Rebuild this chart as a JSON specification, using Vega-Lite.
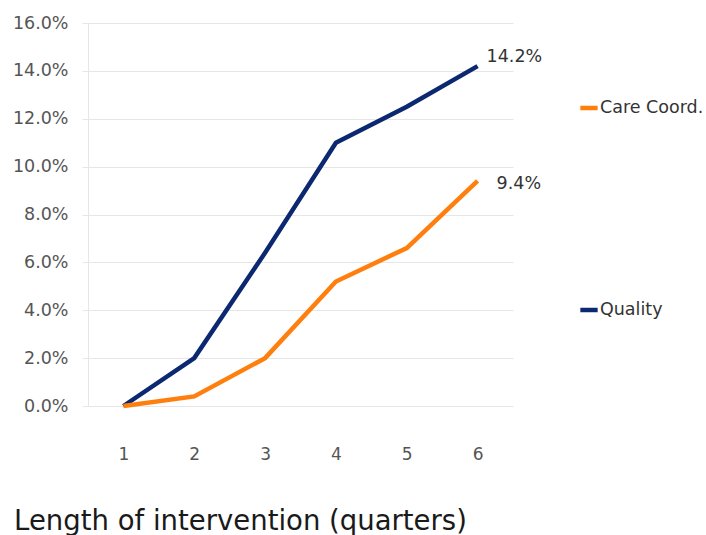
{
  "$schema": "https://vega.github.io/schema/vega-lite/v6.json",
  "width": 425,
  "height": 383,
  "autosize": "none",
  "padding": {"left": 88, "top": 23, "right": 193, "bottom": 129},
  "background": "white",
  "config": {
    "view": {"stroke": null},
    "font": "DejaVu Sans"
  },
  "data": {
    "values": [
      {"quarter": 1, "series": "Quality", "value": 0.0},
      {"quarter": 2, "series": "Quality", "value": 0.020},
      {"quarter": 3, "series": "Quality", "value": 0.064},
      {"quarter": 4, "series": "Quality", "value": 0.110},
      {"quarter": 5, "series": "Quality", "value": 0.125},
      {"quarter": 6, "series": "Quality", "value": 0.142},
      {"quarter": 1, "series": "Care Coord.", "value": 0.0},
      {"quarter": 2, "series": "Care Coord.", "value": 0.004},
      {"quarter": 3, "series": "Care Coord.", "value": 0.020},
      {"quarter": 4, "series": "Care Coord.", "value": 0.052},
      {"quarter": 5, "series": "Care Coord.", "value": 0.066},
      {"quarter": 6, "series": "Care Coord.", "value": 0.094}
    ]
  },
  "encoding": {
    "x": {
      "field": "quarter",
      "type": "ordinal",
      "scale": {"type": "point", "padding": 0.5},
      "axis": {
        "labelAngle": 0,
        "domain": false,
        "ticks": false,
        "grid": false,
        "labelPadding": 40,
        "labelFontSize": 17,
        "labelColor": "#555555",
        "title": "Length of intervention (quarters)",
        "titleFontSize": 27.5,
        "titleFontWeight": "normal",
        "titleColor": "#1a1a1a",
        "titleAlign": "center",
        "titleAnchor": null,
        "titleX": 152,
        "titleY": 123,
        "titleBaseline": "alphabetic"
      }
    },
    "y": {
      "field": "value",
      "type": "quantitative",
      "scale": {"domain": [0, 0.16]},
      "axis": {
        "format": ".1%",
        "values": [0, 0.02, 0.04, 0.06, 0.08, 0.1, 0.12, 0.14, 0.16],
        "labelOverlap": false,
        "title": null,
        "domainColor": "#e6e6e6",
        "tickColor": "#e6e6e6",
        "tickSize": 6,
        "gridColor": "#e6e6e6",
        "labelFontSize": 17.5,
        "labelColor": "#555555",
        "labelPadding": 14
      }
    }
  },
  "layer": [
    {
      "mark": {"type": "line", "strokeWidth": 4.5},
      "encoding": {
        "color": {
          "field": "series",
          "type": "nominal",
          "scale": {"domain": ["Care Coord.", "Quality"], "range": ["#ff7f0e", "#0b2870"]},
          "legend": {
            "orient": "none",
            "legendX": 490,
            "legendY": 74,
            "title": null,
            "symbolType": "stroke",
            "symbolStrokeWidth": 4.5,
            "symbolSize": 300,
            "labelFontSize": 17.5,
            "labelColor": "#333333",
            "labelOffset": 0,
            "rowPadding": 182
          }
        }
      }
    },
    {
      "transform": [{"filter": "datum.quarter == 6 && datum.series == 'Quality'"}],
      "mark": {"type": "text", "align": "left", "dx": 9, "dy": -9, "fontSize": 17.5, "color": "#333333"},
      "encoding": {"text": {"field": "value", "type": "quantitative", "format": ".1%"}}
    },
    {
      "transform": [{"filter": "datum.quarter == 6 && datum.series == 'Care Coord.'"}],
      "mark": {"type": "text", "align": "left", "dx": 19, "dy": 3, "fontSize": 17.5, "color": "#333333"},
      "encoding": {"text": {"field": "value", "type": "quantitative", "format": ".1%"}}
    }
  ]
}
